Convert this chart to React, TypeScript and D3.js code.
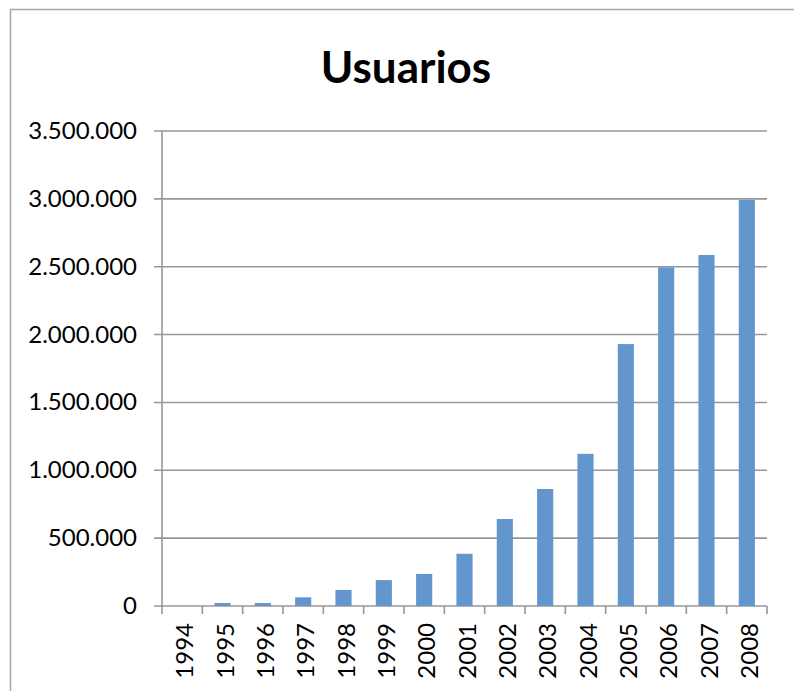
import React from "react";
import * as d3 from "d3";

const years = ["1994","1995","1996","1997","1998","1999","2000","2001","2002","2003","2004","2005","2006","2007","2008"];
const usuarios = [0, 22000, 22000, 64000, 118000, 191000, 236000, 385000, 641000, 862000, 1121000, 1930000, 2495000, 2586000, 2992000];
const yTicks = [0, 500000, 1000000, 1500000, 2000000, 2500000, 3000000, 3500000];
const title = "Usuarios";

const W = 794, H = 691;
const plot = { left: 162, right: 767, top: 131, bottom: 606 };

const fmt = (v: number) => d3.format(",")(v).replace(/,/g, ".");

export default function App() {
  const x = d3.scaleBand<string>().domain(years).range([plot.left, plot.right]).paddingInner(0.6).paddingOuter(0.3);
  const xb = d3.scaleBand<string>().domain(years).range([plot.left, plot.right]);
  const y = d3.scaleLinear().domain([0, 3500000]).range([plot.bottom, plot.top]);
  const grid = "#979797";
  const font = "Lato, 'Open Sans', sans-serif";
  return (
    <svg width={W} height={H} style={{ position: "absolute", left: 0, top: 0, background: "#fff" }}>
      <rect x={10.5} y={9.5} width={W + 20} height={H + 20} fill="#fff" stroke="#a6a6a6" strokeWidth={1.5} />
      <text x={406} y={83} textAnchor="middle" fontFamily={font} fontWeight="bold" fontSize={44} fill="#000">{title}</text>
      {yTicks.map(t => (
        <g key={t}>
          <line x1={plot.left - 8} x2={plot.right} y1={y(t)} y2={y(t)} stroke={grid} strokeWidth={1.6} />
          <text x={137} y={y(t) + 8} textAnchor="end" fontFamily={font} fontSize={24} fill="#000">{fmt(t)}</text>
        </g>
      ))}
      <line x1={plot.left} x2={plot.left} y1={plot.top} y2={plot.bottom} stroke={grid} strokeWidth={1.6} />
      {years.map((yr, i) => (
        <rect key={yr} x={x(yr)} y={y(usuarios[i])} width={x.bandwidth()} height={plot.bottom - y(usuarios[i])} fill="#6396CC" />
      ))}
      {[...years.map(yr => xb(yr) as number), plot.right].map((tx, i) => (
        <line key={i} x1={tx} x2={tx} y1={plot.bottom} y2={plot.bottom + 8} stroke={grid} strokeWidth={1.6} />
      ))}
      {years.map(yr => {
        const cx = (xb(yr) as number) + xb.bandwidth() / 2 + 11;
        return (
          <text key={yr} transform={`translate(${cx},${623}) rotate(-90)`} textAnchor="end" fontFamily={font} fontSize={24} fill="#000">{yr}</text>
        );
      })}
    </svg>
  );
}
